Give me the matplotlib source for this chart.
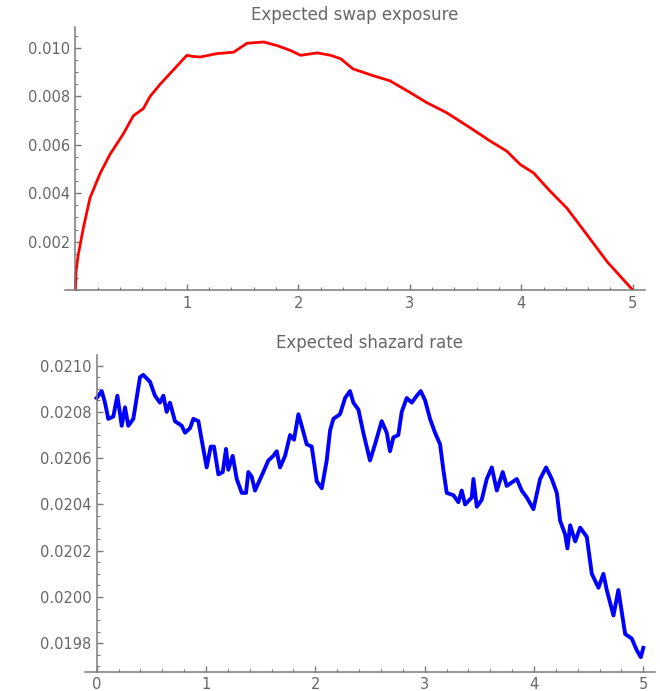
import matplotlib
matplotlib.use("Agg")
import matplotlib.pyplot as plt
from matplotlib.ticker import MultipleLocator

# expected swap exposure (years, value)
exp_t = [0.0, 0.005, 0.012, 0.026, 0.071, 0.131, 0.22, 0.31, 0.43, 0.52, 0.61, 0.67,
         0.76, 0.88, 1.0, 1.06, 1.12, 1.27, 1.42, 1.54, 1.69, 1.81, 1.93, 2.02,
         2.17, 2.29, 2.38, 2.49, 2.67, 2.82, 3.0, 3.15, 3.33, 3.54, 3.72, 3.87,
         3.99, 4.11, 4.26, 4.41, 4.59, 4.77, 5.0]
exp_v = [0.0, 0.0007, 0.0010, 0.00146, 0.00255, 0.0038, 0.0048, 0.0056, 0.00645, 0.0072,
         0.0075, 0.0080, 0.0085, 0.0091, 0.0097, 0.00965, 0.00963, 0.00977, 0.00983,
         0.0102, 0.01025, 0.0101, 0.0099, 0.0097, 0.0098, 0.0097, 0.00956, 0.00914,
         0.00886, 0.00865, 0.00817, 0.00775, 0.00733, 0.00671, 0.00616, 0.00574,
         0.00519, 0.00484, 0.00408, 0.00338, 0.00228, 0.00117, 0.0]

# expected hazard rate (years, value)
haz_t = [0.0, 0.046, 0.076, 0.106, 0.152, 0.189, 0.229, 0.259, 0.289, 0.335, 0.396,
         0.426, 0.488, 0.533, 0.579, 0.61, 0.64, 0.67, 0.716, 0.778, 0.808, 0.854,
         0.884, 0.93, 0.96, 1.006, 1.043, 1.073, 1.113, 1.153, 1.183, 1.204, 1.244,
         1.281, 1.327, 1.366, 1.387, 1.418, 1.448, 1.524, 1.57, 1.616, 1.647, 1.677,
         1.723, 1.769, 1.805, 1.845, 1.875, 1.921, 1.967, 2.013, 2.059, 2.104, 2.135,
         2.165, 2.226, 2.272, 2.317, 2.348, 2.394, 2.439, 2.5, 2.546, 2.607, 2.653,
         2.683, 2.714, 2.759, 2.79, 2.836, 2.882, 2.928, 2.964, 3.004, 3.049, 3.095,
         3.141, 3.171, 3.202, 3.263, 3.308, 3.339, 3.37, 3.431, 3.446, 3.477, 3.522,
         3.568, 3.614, 3.66, 3.714, 3.751, 3.843, 3.888, 3.934, 3.995, 4.056, 4.111,
         4.163, 4.209, 4.239, 4.285, 4.306, 4.331, 4.377, 4.422, 4.483, 4.529, 4.59,
         4.635, 4.666, 4.727, 4.772, 4.834, 4.895, 4.94, 4.977, 5.0]
haz_v = [0.02086, 0.02089, 0.02084, 0.02077, 0.02078, 0.02087, 0.02074, 0.02082, 0.02074,
         0.02077, 0.02095, 0.02096, 0.02093, 0.02087, 0.02084, 0.02087, 0.02080, 0.02084,
         0.02076, 0.02074, 0.02071, 0.02073, 0.02077, 0.02076, 0.02068, 0.02056, 0.02065,
         0.02065, 0.02053, 0.02054, 0.02064, 0.02055, 0.02061, 0.02051, 0.02045, 0.02045,
         0.02054, 0.02052, 0.02046, 0.02054, 0.02059, 0.02061, 0.02063, 0.02056, 0.02061,
         0.02070, 0.02068, 0.02079, 0.02074, 0.02066, 0.02065, 0.02050, 0.02047, 0.02059,
         0.02072, 0.02077, 0.02079, 0.02086, 0.02089, 0.02084, 0.02081, 0.02071, 0.02059,
         0.02066, 0.02076, 0.02071, 0.02063, 0.02069, 0.02070, 0.02080, 0.02086, 0.02084,
         0.02087, 0.02089, 0.02085, 0.02077, 0.02071, 0.02066, 0.02055, 0.02045, 0.02044,
         0.02041, 0.02046, 0.02040, 0.02043, 0.02051, 0.02039, 0.02042, 0.02051, 0.02056,
         0.02046, 0.02054, 0.02048, 0.02051, 0.02046, 0.02043, 0.02038, 0.02051, 0.02056,
         0.02051, 0.02045, 0.02033, 0.02027, 0.02021, 0.02031, 0.02024, 0.02030, 0.02026,
         0.02010, 0.02004, 0.02010, 0.02003, 0.01992, 0.02003, 0.01984, 0.01982, 0.01977,
         0.01974, 0.01978]

x_ticks_top = [1, 2, 3, 4, 5]
y_ticks_top = [0.002, 0.004, 0.006, 0.008, 0.010]
x_ticks_bot = [0, 1, 2, 3, 4, 5]
y_ticks_bot = [0.0198, 0.0200, 0.0202, 0.0204, 0.0206, 0.0208, 0.0210]

axis_col = "#7a7a7a"
text_col = "#666666"
font = "DejaVu Sans"

fig = plt.figure(figsize=(6.6, 6.91), dpi=100)


def style_axes(ax):
    for side in ["top", "right"]:
        ax.spines[side].set_visible(False)
    for side in ["left", "bottom"]:
        ax.spines[side].set_color(axis_col)
        ax.spines[side].set_linewidth(1.1)
    ax.tick_params(which="major", direction="in", length=4.5, width=1.0,
                   color=axis_col, labelcolor=text_col, labelsize=10.5, pad=4)
    ax.tick_params(which="minor", direction="in", length=2.5, width=0.8,
                   color=axis_col)
    for lab in ax.get_xticklabels() + ax.get_yticklabels():
        lab.set_family(font)


# top panel
ax1 = fig.add_axes([65 / 660, 1 - 290 / 691, 580 / 660, 263 / 691])
ax1.plot(exp_t, exp_v, color="#ff0000", lw=2.0, solid_joinstyle="round")
ax1.set_xlim(-0.093, 5.11)
ax1.set_ylim(0, 0.01087)
ax1.spines["left"].set_position(("data", 0))
ax1.spines["bottom"].set_position(("data", 0))
ax1.set_xticks(x_ticks_top)
ax1.set_xticklabels([str(v) for v in x_ticks_top])
ax1.set_yticks(y_ticks_top)
ax1.set_yticklabels(["%.3f" % v for v in y_ticks_top])
ax1.xaxis.set_minor_locator(MultipleLocator(0.2))
ax1.yaxis.set_minor_locator(MultipleLocator(0.0005))
style_axes(ax1)
ax1.set_title("Expected swap exposure", fontsize=12, color=text_col,
              family=font, pad=5)

# bottom panel
ax2 = fig.add_axes([85 / 660, 1 - 671.7 / 691, 570 / 660, 316.7 / 691])
ax2.plot(haz_t, haz_v, color="#0000ff", lw=2.8, solid_joinstyle="round")
ax2.set_xlim(-0.107, 5.107)
ax2.set_ylim(0.019677, 0.021046)
ax2.spines["left"].set_position(("data", 0))
ax2.set_xticks(x_ticks_bot)
ax2.set_xticklabels([str(v) for v in x_ticks_bot])
ax2.set_yticks(y_ticks_bot)
ax2.set_yticklabels(["%.4f" % v for v in y_ticks_bot])
ax2.xaxis.set_minor_locator(MultipleLocator(0.2))
ax2.yaxis.set_minor_locator(MultipleLocator(0.00005))
style_axes(ax2)
ax2.set_title("Expected shazard rate", fontsize=12, color=text_col,
              family=font, pad=5)

fig.savefig("out.png", dpi=100)
